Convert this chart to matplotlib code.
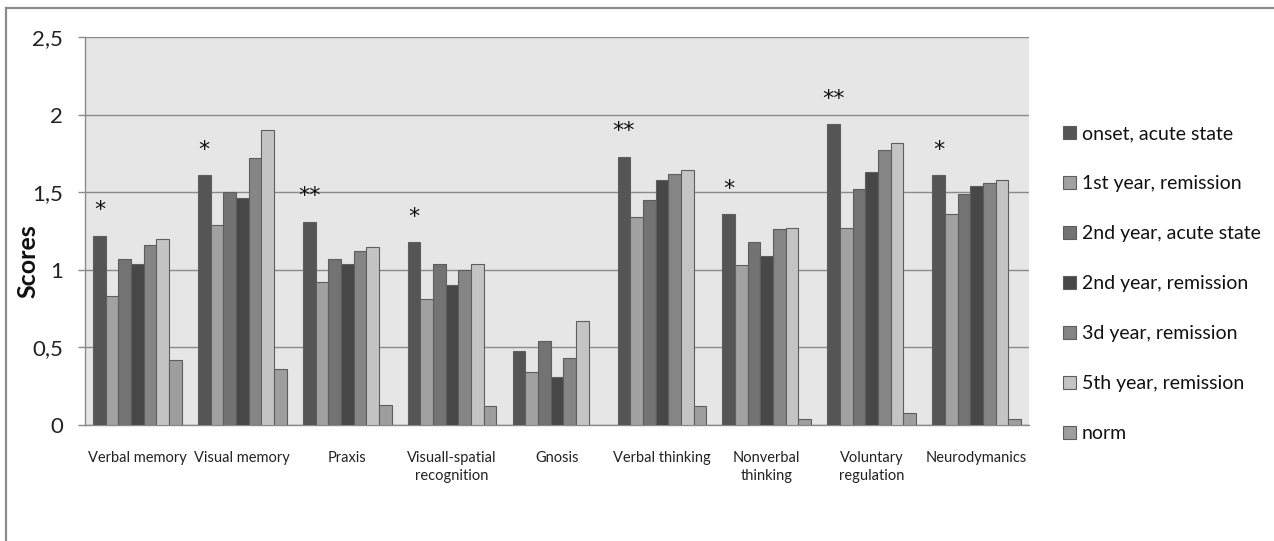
import numpy as np
import matplotlib
matplotlib.use("Agg")
import matplotlib.pyplot as plt
from matplotlib.lines import Line2D

# Domains of neuropsychological assessment
categories = ["Verbal memory", "Visual memory", "Praxis", "Visuall-spatial\nrecognition",
              "Gnosis", "Verbal thinking", "Nonverbal\nthinking", "Voluntary\nregulation",
              "Neurodymanics"]

series_names = ["onset, acute state", "1st year, remission", "2nd year, acute state",
                "2nd year, remission", "3d year, remission", "5th year, remission", "norm"]

onset_acute   = [1.22, 1.61, 1.31, 1.18, 0.48, 1.73, 1.36, 1.94, 1.61]
year1_remiss  = [0.83, 1.29, 0.92, 0.81, 0.34, 1.34, 1.03, 1.27, 1.36]
year2_acute   = [1.07, 1.50, 1.07, 1.04, 0.54, 1.45, 1.18, 1.52, 1.49]
year2_remiss  = [1.04, 1.46, 1.04, 0.90, 0.31, 1.58, 1.09, 1.63, 1.54]
year3_remiss  = [1.16, 1.72, 1.12, 1.00, 0.43, 1.62, 1.26, 1.77, 1.56]
year5_remiss  = [1.20, 1.90, 1.15, 1.04, 0.67, 1.64, 1.27, 1.82, 1.58]
norm          = [0.42, 0.36, 0.13, 0.12, np.nan, 0.12, 0.04, 0.08, 0.04]

significance = ["*", "*", "**", "*", "", "**", "*", "**", "*"]

y_ticks = [0, 0.5, 1, 1.5, 2, 2.5]
y_tick_labels = ["0", "0,5", "1", "1,5", "2", "2,5"]

all_series = [onset_acute, year1_remiss, year2_acute, year2_remiss,
              year3_remiss, year5_remiss, norm]
colors = ["#555555", "#a1a1a1", "#737373", "#474747", "#858585", "#c4c4c4", "#9e9e9e"]

W, H = 1274, 541
fig = plt.figure(figsize=(W / 100, H / 100), dpi=100)
fig.patch.set_facecolor("white")

ax = fig.add_axes([85 / W, 1 - 425 / H, (1029 - 85) / W, (425 - 37) / H])
ax.set_facecolor("#e6e6e6")

n_series = len(all_series)
group_width = 0.845
bar_w = group_width / n_series
x = np.arange(len(categories))

for k, (vals, col, name) in enumerate(zip(all_series, colors, series_names)):
    offs = (k - (n_series - 1) / 2) * bar_w
    ax.bar(x + offs, vals, width=bar_w, color=col, edgecolor="#5e5e5e",
           linewidth=0.8, label=name, zorder=3)

# significance marks above the onset bars
onset_x = x - (n_series - 1) / 2 * bar_w
for xi, yi, s in zip(onset_x, onset_acute, significance):
    if s:
        ax.annotate(s, (xi, yi), xytext=(0, 11), textcoords="offset points",
                    ha="center", va="bottom", fontsize=16, color="#111111",
                    family="DejaVu Sans", zorder=4)

ax.set_xlim(-0.5, len(categories) - 0.5)
ax.set_ylim(0, 2.5)
ax.set_yticks(y_ticks)
ax.set_yticklabels(y_tick_labels, fontsize=16, family="Lato", color="#222222")
ax.set_xticks(x)
ax.set_xticklabels(categories, fontsize=10.5, family="Lato", color="#222222",
                   linespacing=1.3)
ax.tick_params(axis="x", length=0, pad=19)
ax.tick_params(axis="y", length=5, width=1, color="#8a8a8a", pad=11)

ax.yaxis.grid(True, color="#8a8a8a", linewidth=1, zorder=0)
ax.set_axisbelow(True)
for side in ["top", "right"]:
    ax.spines[side].set_visible(False)
for side in ["left", "bottom"]:
    ax.spines[side].set_color("#8a8a8a")
    ax.spines[side].set_linewidth(1)

ax.set_ylabel("Scores", fontsize=18, fontweight="bold", family="Lato",
              color="#111111")
ax.yaxis.set_label_coords((39 - 85) / (1029 - 85), (425 - 261) / (425 - 37))

leg = ax.legend(loc="upper left", bbox_to_anchor=(1063 / W, 1 - 125 / H),
                bbox_transform=fig.transFigure, frameon=False,
                prop={"family": "Lato", "size": 14},
                handlelength=0.68, handleheight=0.68, handletextpad=0.3,
                labelspacing=1.7, borderpad=0, borderaxespad=0)
for t in leg.get_texts():
    t.set_color("#111111")

# outer frame of the chart area
fig.add_artist(Line2D([6 / W, 1.0], [1 - 8 / H, 1 - 8 / H], color="#8c8c8c",
                      linewidth=1.6, transform=fig.transFigure))
fig.add_artist(Line2D([6 / W, 6 / W], [0.0, 1 - 8 / H], color="#8c8c8c",
                      linewidth=1.6, transform=fig.transFigure))

fig.savefig("out.png", dpi=100, facecolor="white")
